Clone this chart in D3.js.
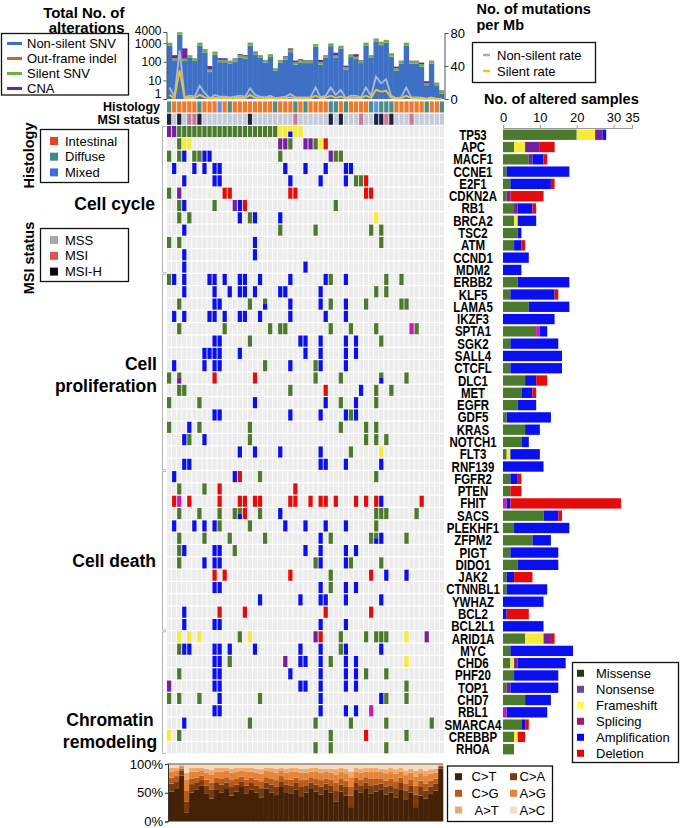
<!DOCTYPE html>
<html><head><meta charset="utf-8">
<script src="https://cdnjs.cloudflare.com/ajax/libs/d3/7.8.5/d3.min.js"></script>
<style>html,body{margin:0;padding:0;background:#fff}</style>
</head><body>
<svg id="chart" width="680" height="828"></svg>
<script>
// ================= DATA =================
const samples = d3.range(1, 56).map(i => "S" + i);

// top panel: total number of alterations (log scale), stacked
const nonSilentSNV = [760,120,2800,110,160,110,760,320,28,240,95,95,80,100,170,150,720,230,160,90,180,32,90,130,330,70,90,85,85,640,70,160,690,160,520,38,180,140,85,760,160,1250,780,1050,190,32,80,760,80,80,55,5,80,5,2];
const outFrameIndel = [15,3,40,2,3,2,12,5,1,4,2,2,1,2,3,3,12,4,3,1,3,1,1,2,5,1,2,1,1,10,1,3,10,3,8,1,3,2,1,12,3,25,60,20,3,1,1,12,1,1,1,0,1,0,0];
const silentSNV = [290,35,1050,35,60,40,290,110,10,90,30,30,30,35,55,50,270,80,55,30,70,11,30,40,110,20,30,30,30,240,25,60,260,55,195,13,70,45,30,290,60,480,320,400,75,12,30,290,30,30,20,2,30,2,1];
const cnaCount = [5,70,10,380,5,3,8,30,20,15,30,28,4,15,30,25,60,40,10,4,5,1,4,25,80,25,15,8,8,10,30,8,10,90,8,10,5,70,8,8,6,40,30,30,15,10,4,8,4,4,15,2,4,0.5,0];

// mutations per Mb
const nonSilentRate = [14,3,59,2,4,3,16,7,1,5,3,3,2,3,4,3,13,5,3,2,4,1,2,3,6,2,2,2,2,14,2,4,14,5,11,1,4,4,2,14,4,27,19,24,4,1,2,14,2,2,1.5,0.3,2,0.3,0.2];
const silentRate = [5,1,35,1,1.5,1,5,2,0.5,1.5,1,1,0.8,1,1.5,1,5,1.5,1,0.8,1.5,0.4,0.8,1,2,0.8,0.8,0.8,0.8,4,0.8,1.5,4,1.5,3,0.5,1.5,1.5,0.8,4,1.5,11,9,10,1.5,0.4,0.8,4,0.8,0.8,0.5,0.1,0.8,0.1,0.1];

// annotation rows (I=Intestinal, D=Diffuse, X=Mixed ; S=MSS, M=MSI, H=MSI-H)
const histology = "DIIIIIDIIIXIDIIIIIIIIDIIIDIDIIIIDDIDIIIIDXDDDIIIIIIDIID".split("");
const msiStatus = "HSHSMMHSSSSSSSSSHSSSSSSSSMSSSSSSHSHSSSMSSHHMHSSSMSSSSSS".split("");

const genes = ["TP53","APC","MACF1","CCNE1","E2F1","CDKN2A","RB1","BRCA2","TSC2","ATM","CCND1","MDM2",
 "ERBB2","KLF5","LAMA5","IKZF3","SPTA1","SGK2","SALL4","CTCFL","DLC1","MET","EGFR","GDF5","KRAS","NOTCH1","FLT3","RNF139",
 "FGFR2","PTEN","FHIT","SACS","PLEKHF1","ZFPM2","PIGT","DIDO1","JAK2","CTNNBL1","YWHAZ","BCL2","BCL2L1",
 "ARID1A","MYC","CHD6","PHF20","TOP1","CHD7","RBL1","SMARCA4","CREBBP","RHOA"];

const pathways = [
 {name:["Cell cycle"], first:"TP53", last:"MDM2"},
 {name:["Cell","proliferation"], first:"ERBB2", last:"RNF139"},
 {name:["Cell death"], first:"FGFR2", last:"BCL2L1"},
 {name:["Chromatin","remodeling"], first:"ARID1A", last:"RHOA"}];

// alterations per gene: "<sample index>[-<end>]<type>[/<lower-half type>]"
// M=Missense N=Nonsense F=Frameshift S=Splicing A=Amplification D=Deletion
const alterations = {
 TP53:"0N 1N 2-21M 22F 23F 24F/A 25F 26F",
 APC:"2M 3F 4F 22N 23N 24M 27N 28N 29M 30F 31D",
 MACF1:"0M 2M 3A 5M 6M 7A 8A 22M 32N 33M 34M",
 CCNE1:"1A 5A 7A 9A 10A 23A 27A 31A 35A 36A",
 E2F1:"3A 9A 10A 24A 30A 35A 37M 38M 39D",
 CDKN2A:"0M 2N 11D 12D 24D 25D 39D 40D",
 RB1:"2M 3A 9M 13N 14A 15D 33M",
 BRCA2:"2M 4M 14A 16M 17A 22A 41F",
 TSC2:"3A 22M 29M 40M 42M",
 ATM:"0M 2M 17A 42M",
 CCND1:"3A 17A",
 MDM2:"3A 27A",
 ERBB2:"0M 1A 3A 8A 9A 11A 14A 15A 18A 24A 31A 32M 35A 43M 46M",
 KLF5:"3A 9A 12A 14A 15A 17A 22A 23A 30A 41M 43M",
 LAMA5:"2M 9A 10A 16M 19M/A 24A 30A 32M 35A 39M 46M 47M",
 IKZF3:"1A 3A 8A 9A 11A 14A 15A 18A 24A 31A 35A",
 SPTA1:"2M 11M 20M 22M 23M 32M 36M 41M 48S 49M",
 SGK2:"9A 10A 16M 26A 27A 30A 35A 37A 42M",
 SALL4:"7A 8A 9A 10A 14A 27A 30A 35A 37A",
 CTCFL:"1A 7A 9A 10A 19M 24A 29M 30A 35A",
 DLC1:"0M 2M/N 9D 17D 29M 34M 42M/A 47M",
 MET:"2M 3M 24M 31D 38A 41M 44M",
 EGFR:"0M 6M 17A 31A 34M 37A 41M",
 GDF5:"9A 10A 24A 30A 35A 36M 37A",
 KRAS:"0M 4A 6M 16M 34M 39M 41M",
 NOTCH1:"3A 4M 7A 16M 39M 41M 43M",
 FLT3:"14A 17A 22A 30A 36M 42F",
 RNF139:"3A 4A 30A 31A 35A 42A",
 FGFR2:"1A 13A 14D 18M 41M",
 PTEN:"2M 7M 10D 25D",
 FHIT:"1D 2S 4D 10D 14D 15D 17D 18D 24D 25D 28D 30D 31D 33D 37D 39D 41D 42A 50D",
 SACS:"2M 6M 10M 13M 14M/A 15D 18M 22A 41M 42M 43M 49M",
 PLEKHF1:"1A 5A 7A 9A 10M 16M 23A 27A 31A 35A 41M",
 ZFPM2:"2M 7M 12M 19M 30A 32M 40M 41M/A 42A 47M",
 PIGT:"2M 3A 9A 10A 13M 27A 30A 35A 37A",
 DIDO1:"2M 7A 9A 10A 29M 30A 35A 36M 42M",
 JAK2:"9D 11D 24D 32M 40D 43A 47A",
 CTNNBL1:"9A 10A 30A 32M 35A 37A",
 YWHAZ:"18A 26A 30A 31A 35A 42A",
 BCL2:"3A 10D 15D 31D 40D",
 BCL2L1:"3A 9A 10A 30A 35A",
 ARID1A:"2F 4F 6F 14M 16F 29N 30D 34M 39M 41M 42M 43M 47F 51N",
 MYC:"2M 3A 4A 9A 10A 12A 17A 26A 30A 34M 35A 42A",
 CHD6:"9A 10A 12M 23N 26A 27A 30A 32M 35A 37A 47F",
 PHF20:"2M 9A 10A 24A 30A 35A 37A 39M 43M",
 TOP1:"0N 9A 10A 26A 27A 30A 35A 37A 47M",
 CHD7:"0M 2M 6M 10A 18M 30A 42A 43M 47M",
 RBL1:"9A 10A 30A 35A 37A 40S",
 SMARCA4:"3A 16M 29M 36M 43M 52M",
 CREBBP:"0F 2M 32M 39D 47M",
 RHOA:"29M 32M 43M"
};

// right panel: number of altered samples per gene
const missense   = [20,3,7,1,2,1,3,3,4,3,0,0, 4,2,7,0,9,2,0,2,6,5,4,1,6,5,1,0, 2,2,0,11,3,8,2,4,1,1,0,0,0, 6,2,2,3,1,6,0,5,3,3];
const frameshift = [5,3,0,0,0,0,0,1,0,0,0,0, 0,0,0,0,0,0,0,0,0,0,0,0,0,0,1,0, 0,0,0,0,0,0,0,0,0,0,0,0,0, 5,0,1,0,0,0,0,0,1,0];
const nonsense   = [2,4,1,0,0,1,1,0,0,0,0,0, 0,0,0,0,0,0,0,0,0,0,0,0,0,0,0,0, 0,0,0,0,0,0,0,0,0,0,0,0,0, 2,0,1,0,1,0,0,0,0,0];
const splicing   = [0,0,0,0,0,0,0,0,0,0,0,0, 0,0,0,0,1,0,0,0,0,0,0,0,0,0,0,0, 0,0,1,0,0,0,0,0,0,0,0,0,0, 0,0,0,0,0,0,1,0,0,0];
const amplification = [1,0,3,17,11,0,4,5,1,2,7,5, 14,12,11,14,2,13,16,14,3,3,5,12,4,2,8,11, 2,0,1,4,15,5,13,11,2,11,11,1,11, 0,17,13,12,13,7,11,1,0,0];
const deletion   = [0,4,1,0,1,9,1,0,0,1,0,0, 0,1,0,0,0,0,0,0,3,1,0,0,0,0,0,0, 1,3,30,1,0,0,0,0,5,0,0,6,0, 1,0,0,0,0,0,0,1,2,0];
const barTicks = [0,10,20,30,35];

// bottom: mutation spectrum (relative contributions per sample)
const CtoT = [52,58,80,15,50,55,62,48,40,55,50,58,45,52,60,48,55,50,42,57,50,46,60,52,48,55,44,50,58,52,47,55,50,35,52,45,25,55,50,58,48,52,55,47,50,42,55,38,50,25,45,40,48,55,92];
const CtoA = [14,12,8,20,15,12,10,14,16,12,14,10,15,12,10,14,12,13,16,11,14,15,10,13,14,12,16,13,10,12,14,11,13,18,12,15,20,12,13,10,15,12,11,14,13,16,12,15,13,22,15,14,13,12,3];
const CtoG = [10,9,4,18,10,9,8,11,12,9,10,9,12,10,8,11,9,10,12,9,10,11,9,10,11,9,12,10,9,10,11,9,10,14,10,11,15,9,10,9,11,10,9,10,11,12,9,12,10,15,11,12,10,9,2];
const AtoG = [11,10,4,20,12,11,9,12,14,11,12,11,13,12,10,13,11,12,13,11,12,13,10,12,13,11,13,12,10,12,13,11,12,15,12,13,17,11,12,10,12,12,11,13,12,13,11,14,12,16,13,13,12,11,1];
const AtoT = [6,5,2,12,6,6,5,7,8,6,7,5,7,7,5,7,6,7,8,5,7,7,5,7,7,6,7,7,6,7,7,6,7,9,7,8,10,6,7,6,7,7,6,7,7,8,6,8,7,10,8,9,8,7,1];
const AtoC = [7,6,2,15,7,7,6,8,10,7,7,7,8,7,7,7,7,8,9,7,7,8,6,8,7,7,8,8,7,7,8,8,8,9,7,8,13,7,8,7,7,7,8,9,7,9,7,11,8,12,8,12,9,8,1];

// ================= STYLE =================
const FONT = "'Liberation Sans', Arial, Helvetica, sans-serif";
const altColor = {M:"#4c7a2c", N:"#74209f", F:"#f4ec38", S:"#cc19b9", A:"#0a0ff0", D:"#e60b0b"};
const histColor = {I:"#ec7a2e", D:"#4b8c85", X:"#5d8ff0"};
const msiColor = {S:"#c4cbda", M:"#c87a9c", H:"#1e2440"};

const svg = d3.select("#chart");
function txt(g, x, y, s, o = {}) {
  return g.append("text")
    .attr("transform", `translate(${x},${y}) rotate(${o.rotate||0}) scale(1,${o.vs||1})`)
    .attr("text-anchor", o.anchor || "start")
    .attr("font-family", FONT)
    .attr("font-size", o.size || 13)
    .attr("font-weight", o.weight || "normal")
    .attr("fill", o.fill || "#000")
    .text(s);
}

// ================= SCALES =================
const xGrid = d3.scaleBand().domain(samples).range([167, 444]).paddingInner(0.16);
const xTop = d3.scaleBand().domain(samples).range([167, 444]).padding(0);
const rowPitch = 12.3;
const yGrid = d3.scaleBand().domain(genes).range([126, 126 + rowPitch * genes.length]).paddingInner(0.1);
const yBar = d3.scaleBand().domain(genes).range([129.6, 129.6 + 12.25 * genes.length]).paddingInner(0.16);
const xBar = d3.scaleLinear().domain([0, 35]).range([503, 632]);
const yLog = d3.scaleLog().domain([1, 4000]).range([99, 32]);
const yRate = d3.scaleLinear().domain([0, 80]).range([99, 33]);

// ================= TOP PANEL =================
const topG = svg.append("g");
const topSeries = [
  {key:"Non-silent SNV", values:nonSilentSNV, color:"#3e71c6"},
  {key:"Out-frame indel", values:outFrameIndel, color:"#c9661f"},
  {key:"Silent SNV", values:silentSNV, color:"#6cb240"},
  {key:"CNA", values:cnaCount, color:"#73229e"}];
samples.forEach((s, i) => {
  let cum = 0;
  topSeries.forEach(ser => {
    const v = ser.values[i];
    if (!v) return;
    const y0 = yLog(Math.max(cum, 1));
    cum += v;
    const y1 = yLog(Math.max(cum, 1));
    topG.append("rect").attr("x", xTop(s)).attr("width", xTop.bandwidth() + 0.3)
      .attr("y", y1).attr("height", Math.max(0, y0 - y1)).attr("fill", ser.color);
  });
});
const rateLine = vals => d3.line().x((d, i) => xTop(samples[i]) + xTop.bandwidth() / 2).y(d => yRate(d))(vals);
topG.append("path").attr("d", rateLine(nonSilentRate)).attr("fill", "none").attr("stroke", "#a9bad8").attr("stroke-width", 1.8);
topG.append("path").attr("d", rateLine(silentRate)).attr("fill", "none").attr("stroke", "#eec232").attr("stroke-width", 1.8);

const axL = topG.append("g").attr("transform", "translate(166.5,0)")
  .call(d3.axisLeft(yLog).tickValues([1, 10, 100, 1000, 4000]).tickSize(3).tickPadding(2).tickFormat(d3.format("d")));
axL.selectAll("text").attr("font-size", 12).attr("font-family", FONT).attr("fill", "#000");
axL.selectAll("path,line").attr("stroke", "#555");
axL.selectAll(".tick").filter(d => d === 1).select("text").attr("y", -5.5);
axL.selectAll(".tick").filter(d => d === 4000).select("text").attr("y", -1.2);
axL.selectAll(".tick").filter(d => d === 1000).select("text").attr("y", 0.8);
const axR = topG.append("g").attr("transform", "translate(444.5,0)")
  .call(d3.axisRight(yRate).tickValues([0, 40, 80]).tickSize(4).tickPadding(2));
axR.selectAll("text").attr("font-size", 13).attr("font-family", FONT).attr("fill", "#000");
axR.selectAll("path,line").attr("stroke", "#555");

// ================= ANNOTATION ROWS =================
const ann = svg.append("g");
const hY = 126 - 2 * rowPitch, mY = 126 - rowPitch, annH = yGrid.bandwidth();
samples.forEach((s, i) => {
  ann.append("rect").attr("x", xGrid(s)).attr("y", hY).attr("width", xGrid.bandwidth()).attr("height", annH).attr("fill", histColor[histology[i]]);
  ann.append("rect").attr("x", xGrid(s)).attr("y", mY).attr("width", xGrid.bandwidth()).attr("height", annH).attr("fill", msiColor[msiStatus[i]]);
});
txt(ann, 160, hY + 9.2, "Histology", {size:12.5, weight:"bold", anchor:"end"});
txt(ann, 160, mY + 9.8, "MSI status", {size:12.5, weight:"bold", anchor:"end"});

// ================= ONCOPRINT GRID =================
const grid = svg.append("g");
genes.forEach(g => {
  samples.forEach(s => {
    grid.append("rect").attr("x", xGrid(s)).attr("y", yGrid(g)).attr("width", xGrid.bandwidth()).attr("height", yGrid.bandwidth()).attr("fill", "#ececec");
  });
  alterations[g].split(" ").forEach(tok => {
    const m = tok.match(/^(\d+)(?:-(\d+))?([MNFSAD])(?:\/([MNFSAD]))?$/);
    const a = +m[1], b = m[2] ? +m[2] : a;
    for (let c = a; c <= b; c++) {
      const s = samples[c];
      if (m[4]) {
        grid.append("rect").attr("x", xGrid(s)).attr("y", yGrid(g)).attr("width", xGrid.bandwidth()).attr("height", yGrid.bandwidth() / 2).attr("fill", altColor[m[3]]);
        grid.append("rect").attr("x", xGrid(s)).attr("y", yGrid(g) + yGrid.bandwidth() / 2).attr("width", xGrid.bandwidth()).attr("height", yGrid.bandwidth() / 2).attr("fill", altColor[m[4]]);
      } else {
        grid.append("rect").attr("x", xGrid(s)).attr("y", yGrid(g)).attr("width", xGrid.bandwidth()).attr("height", yGrid.bandwidth()).attr("fill", altColor[m[3]]);
      }
    }
  });
});

// pathway brackets and labels
const br = svg.append("g");
pathways.forEach(p => {
  const y0 = yGrid(p.first) + 0.5, y1 = yGrid(p.last) + yGrid.bandwidth();
  br.append("path").attr("d", `M166,${y0}H162.5V${y1}H166`).attr("fill", "none").attr("stroke", "#b3b3b3").attr("stroke-width", 1);
});
const labelPos = [
  {x:155, y:[210], anchor:"end"},
  {x:157, y:[370, 392], anchor:"end"},
  {x:156, y:[567], anchor:"end"},
  {x:110, y:[726, 748], anchor:"middle"}];
pathways.forEach((p, i) => {
  p.name.forEach((line, j) => txt(br, labelPos[i].x, labelPos[i].y[j], line, {size:17.5, weight:"bold", anchor:labelPos[i].anchor}));
});

// ================= RIGHT BAR CHART =================
const rb = svg.append("g");
const barKeys = ["missense","frameshift","nonsense","splicing","amplification","deletion"];
const barCols = {missense:"#4c7a2c", frameshift:"#f4ec38", nonsense:"#74209f", splicing:"#cc19b9", amplification:"#0a0ff0", deletion:"#e60b0b"};
const barRows = genes.map((g, i) => ({gene:g, missense:missense[i], frameshift:frameshift[i], nonsense:nonsense[i], splicing:splicing[i], amplification:amplification[i], deletion:deletion[i]}));
const stackB = d3.stack().keys(barKeys)(barRows);
stackB.forEach(layer => {
  rb.selectAll(null).data(layer.filter(d => d[1] > d[0])).join("rect")
    .attr("x", d => xBar(d[0])).attr("width", d => xBar(d[1]) - xBar(d[0]))
    .attr("y", d => yBar(d.data.gene)).attr("height", yBar.bandwidth())
    .attr("fill", barCols[layer.key]);
});
const axB = rb.append("g").attr("transform", "translate(0,128)")
  .call(d3.axisTop(xBar).tickValues(barTicks).tickSize(3).tickPadding(3.5));
axB.selectAll("text").attr("font-size", 13).attr("font-family", FONT).attr("fill", "#000");
axB.selectAll("path,line").attr("stroke", "#999");
txt(rb, 484, 103.5, "No. of altered samples", {size:14.5, weight:"bold"});
genes.forEach(g => {
  txt(rb, 473, yBar(g) + yBar.bandwidth() / 2 + 5, g, {size:11.5, weight:"bold", anchor:"middle", vs:1.2});
});

// ================= SPECTRUM =================
const sp = svg.append("g");
const specKeys = ["C>T","C>A","C>G","A>G","A>T","A>C"];
const specCols = {"C>T":"#452207", "C>A":"#7b3b10", "C>G":"#b85b1d", "A>G":"#e4843a", "A>T":"#eeaa6e", "A>C":"#f7dcc2"};
const specSeries = {"C>T":CtoT, "C>A":CtoA, "C>G":CtoG, "A>G":AtoG, "A>T":AtoT, "A>C":AtoC};
const specRows = samples.map((s, i) => { const o = {sample:s}; specKeys.forEach(k => o[k] = specSeries[k][i]); return o; });
const xSpec = d3.scaleBand().domain(samples).range([169, 443]).padding(0);
const ySpec = d3.scaleLinear().domain([0, 1]).range([821.5, 764]);
const stackS = d3.stack().keys(specKeys).offset(d3.stackOffsetExpand)(specRows);
stackS.forEach(layer => {
  sp.selectAll(null).data(layer).join("rect")
    .attr("x", d => xSpec(d.data.sample)).attr("width", xSpec.bandwidth() + 0.3)
    .attr("y", d => ySpec(d[1])).attr("height", d => ySpec(d[0]) - ySpec(d[1]))
    .attr("fill", specCols[layer.key]);
});
sp.append("line").attr("x1", 168).attr("x2", 443).attr("y1", 764).attr("y2", 764).attr("stroke", "#888").attr("stroke-width", 1.5);
const axS = sp.append("g").attr("transform", "translate(168,0)")
  .call(d3.axisLeft(ySpec).tickValues([0, 0.5, 1]).tickSize(3).tickPadding(2).tickFormat(d3.format(".0%")));
axS.selectAll("text").attr("font-size", 13).attr("font-family", FONT).attr("fill", "#000");
axS.selectAll("path,line").attr("stroke", "#333");

// ================= LEGENDS =================
const lg = svg.append("g");
txt(lg, 124.5, 18, "Total No. of", {size:15, weight:"bold", anchor:"end"});
txt(lg, 124.5, 32.5, "alterations", {size:15, weight:"bold", anchor:"end"});
lg.append("rect").attr("x", 1.5).attr("y", 33.5).attr("width", 127).attr("height", 61.5).attr("fill", "none").attr("stroke", "#111").attr("stroke-width", 1.3);
topSeries.forEach((s, i) => {
  const cy = 43.5 + i * 15;
  lg.append("line").attr("x1", 7).attr("x2", 22).attr("y1", cy).attr("y2", cy).attr("stroke", s.color).attr("stroke-width", 3);
  txt(lg, 27, cy + 4.6, s.key, {size:13});
});
txt(lg, 476.5, 14, "No. of mutations", {size:14.5, weight:"bold"});
txt(lg, 476.5, 29.5, "per Mb", {size:14.5, weight:"bold"});
lg.append("rect").attr("x", 472.5).attr("y", 42.5).attr("width", 123).attr("height", 40).attr("fill", "none").attr("stroke", "#111").attr("stroke-width", 1.3);
[["Non-silent rate", "#8fb0d8"], ["Silent rate", "#f0c020"]].forEach((d, i) => {
  const cy = 55 + i * 16;
  lg.append("line").attr("x1", 483).attr("x2", 490).attr("y1", cy).attr("y2", cy).attr("stroke", d[1]).attr("stroke-width", 2.5);
  txt(lg, 497, cy + 4.6, d[0], {size:13});
});
txt(lg, 33.5, 155.5, "Histology", {size:14.5, weight:"bold", anchor:"middle", rotate:-90});
lg.append("rect").attr("x", 40.5).attr("y", 129.5).attr("width", 88).attr("height", 53).attr("fill", "none").attr("stroke", "#111").attr("stroke-width", 1.3);
[["Intestinal", "#e3451d"], ["Diffuse", "#3d8a88"], ["Mixed", "#3b6ed8"]].forEach((d, i) => {
  const cy = 141 + i * 15.7;
  lg.append("rect").attr("x", 50).attr("y", cy - 4).attr("width", 8).attr("height", 8).attr("fill", d[1]);
  txt(lg, 65, cy + 4.6, d[0], {size:13});
});
txt(lg, 33.5, 258, "MSI status", {size:14.5, weight:"bold", anchor:"middle", rotate:-90});
lg.append("rect").attr("x", 40.5).attr("y", 228.5).attr("width", 88).attr("height", 53).attr("fill", "none").attr("stroke", "#111").attr("stroke-width", 1.3);
[["MSS", "#a8a8a8"], ["MSI", "#e05252"], ["MSI-H", "#0a0a0a"]].forEach((d, i) => {
  const cy = 240 + i * 15.8;
  lg.append("rect").attr("x", 50).attr("y", cy - 4).attr("width", 8).attr("height", 8).attr("fill", d[1]);
  txt(lg, 65, cy + 4.6, d[0], {size:13});
});
lg.append("rect").attr("x", 572.5).attr("y", 662.5).attr("width", 106).attr("height", 100).attr("fill", "none").attr("stroke", "#111").attr("stroke-width", 1.3);
[["Missense", "#1f3d12"], ["Nonsense", "#6b45a0"], ["Frameshift", "#ffff3a"], ["Splicing", "#a8146e"], ["Amplification", "#0000ff"], ["Deletion", "#e00000"]].forEach((d, i) => {
  const cy = 673.3 + i * 16;
  lg.append("rect").attr("x", 577).attr("y", cy - 3.5).attr("width", 7).attr("height", 7).attr("fill", d[1]);
  txt(lg, 596, cy + 4.6, d[0], {size:13});
});
lg.append("rect").attr("x", 447.5).attr("y", 766).attr("width", 105).attr("height", 55.5).attr("fill", "none").attr("stroke", "#111").attr("stroke-width", 1.3);
const specLeg = [["C>T", 455, 471.5, 776.7], ["C>A", 510, 519.5, 776.7], ["C>G", 455, 471.5, 793.3], ["A>G", 510, 519.5, 793.3], ["A>T", 455, 474.5, 810], ["A>C", 510, 519.5, 810]];
specLeg.forEach(d => {
  lg.append("rect").attr("x", d[1]).attr("y", d[3] - 3.5).attr("width", 7).attr("height", 7).attr("fill", specCols[d[0]]);
  txt(lg, d[2], d[3] + 4.6, d[0], {size:13});
});
</script>
</body></html>
